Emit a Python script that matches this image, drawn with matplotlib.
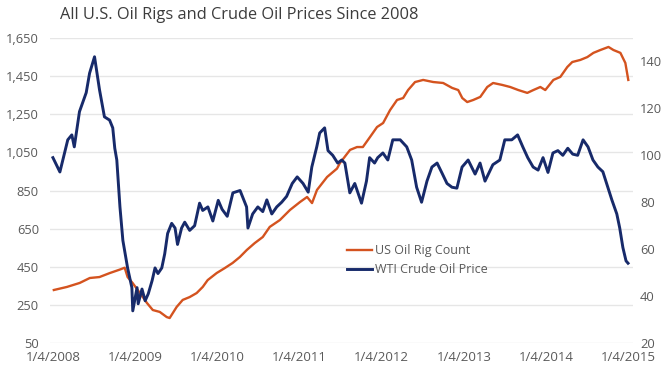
import pandas as pd
import matplotlib
matplotlib.use('Agg')
from matplotlib import pyplot as plt
from matplotlib.ticker import FuncFormatter

plt.rcParams['font.family'] = ['Open Sans', 'DejaVu Sans']

# US oil rig count (left axis)
rig_dates = ['2008-01-08', '2008-03-06', '2008-05-02', '2008-06-16', '2008-07-29', '2008-09-13',
             '2008-10-27', '2008-11-18', '2008-12-01', '2008-12-23', '2009-01-25', '2009-02-25',
             '2009-03-23', '2009-04-23', '2009-05-24', '2009-06-06', '2009-07-07', '2009-08-03',
             '2009-09-03', '2009-10-04', '2009-10-31', '2009-11-22', '2010-01-01', '2010-02-06',
             '2010-03-13', '2010-04-14', '2010-05-15', '2010-06-19', '2010-07-25', '2010-08-25',
             '2010-10-09', '2010-11-23', '2011-01-07', '2011-02-07', '2011-03-01', '2011-03-23',
             '2011-05-07', '2011-06-20', '2011-07-03', '2011-08-17', '2011-09-17', '2011-10-13',
             '2011-11-14', '2011-12-15', '2012-01-11', '2012-02-11', '2012-03-13', '2012-04-09',
             '2012-05-01', '2012-06-01', '2012-07-07', '2012-08-21', '2012-10-04', '2012-11-13',
             '2012-12-10', '2012-12-28', '2013-01-19', '2013-02-15', '2013-03-18', '2013-04-18',
             '2013-05-14', '2013-06-23', '2013-07-29', '2013-09-03', '2013-10-13', '2013-11-09',
             '2013-12-10', '2014-01-01', '2014-02-06', '2014-03-09', '2014-04-09', '2014-05-01',
             '2014-06-06', '2014-07-07', '2014-08-03', '2014-09-03', '2014-10-09', '2014-10-31',
             '2014-12-01', '2014-12-23', '2015-01-05']
rig_count = [328, 344, 365, 391, 396, 417,
             435, 445, 396, 365, 312, 260,
             223, 213, 186, 181, 239, 276,
             291, 312, 344, 380, 417, 443,
             470, 501, 538, 574, 606, 659,
             695, 748, 790, 816, 784, 853,
             921, 965, 994, 1063, 1078, 1078,
             1131, 1183, 1204, 1272, 1325, 1335,
             1377, 1419, 1430, 1419, 1414, 1388,
             1377, 1335, 1314, 1325, 1341, 1393,
             1414, 1404, 1393, 1377, 1362, 1377,
             1393, 1377, 1430, 1446, 1498, 1524,
             1535, 1550, 1572, 1587, 1603, 1587,
             1572, 1519, 1430]

# WTI crude oil price (right axis)
wti_dates = ['2008-01-04', '2008-02-04', '2008-03-10', '2008-03-28', '2008-04-08', '2008-05-01',
             '2008-05-31', '2008-06-15', '2008-07-07', '2008-07-29', '2008-08-20', '2008-09-12',
             '2008-09-26', '2008-10-05', '2008-10-14', '2008-10-28', '2008-11-10', '2008-12-01',
             '2008-12-20', '2008-12-24', '2009-01-12', '2009-01-17', '2009-02-03', '2009-02-17',
             '2009-03-03', '2009-03-20', '2009-04-02', '2009-04-15', '2009-05-02', '2009-05-15',
             '2009-05-28', '2009-06-15', '2009-06-30', '2009-07-11', '2009-07-29', '2009-08-12',
             '2009-09-03', '2009-09-25', '2009-10-17', '2009-10-31', '2009-11-23', '2009-12-15',
             '2010-01-08', '2010-01-25', '2010-02-17', '2010-03-14', '2010-04-15', '2010-05-14',
             '2010-05-20', '2010-06-10', '2010-07-03', '2010-07-25', '2010-08-12', '2010-09-03',
             '2010-09-25', '2010-10-17', '2010-11-08', '2010-12-03', '2010-12-25', '2011-01-20',
             '2011-02-12', '2011-02-28', '2011-03-22', '2011-04-04', '2011-04-26', '2011-05-11',
             '2011-06-01', '2011-06-23', '2011-07-11', '2011-07-25', '2011-08-16', '2011-09-07',
             '2011-10-07', '2011-10-29', '2011-11-12', '2011-12-04', '2011-12-18', '2012-01-10',
             '2012-02-01', '2012-02-23', '2012-03-27', '2012-04-25', '2012-05-17', '2012-06-08',
             '2012-06-30', '2012-07-24', '2012-08-15', '2012-09-07', '2012-09-29', '2012-10-21',
             '2012-11-12', '2012-12-04', '2012-12-27', '2013-01-23', '2013-02-23', '2013-03-17',
             '2013-04-08', '2013-05-13', '2013-06-13', '2013-07-05', '2013-08-05', '2013-08-31',
             '2013-09-23', '2013-10-15', '2013-11-08', '2013-11-30', '2013-12-22', '2014-01-13',
             '2014-02-04', '2014-02-26', '2014-03-20', '2014-04-11', '2014-05-03', '2014-05-25',
             '2014-06-18', '2014-07-10', '2014-08-01', '2014-08-23', '2014-09-14', '2014-10-06',
             '2014-10-24', '2014-11-15', '2014-11-28', '2014-12-12', '2014-12-26', '2015-01-04']
wti_price = [99, 92.9, 106.6, 108.7, 103.6, 118.6,
             126.7, 135, 142, 128, 116.4, 115,
             111.7, 103, 98, 78, 63.7, 52,
             43.6, 33.7, 43.6, 36.7, 43, 38,
             41, 46.6, 52, 49.6, 52, 58,
             66.7, 71, 69, 62, 69, 71.5,
             68, 70, 79.6, 76.5, 78, 72,
             80.8, 77, 74, 84, 85, 78,
             69, 75, 78, 76, 81, 75,
             78, 80, 82.5, 88, 90.8, 88,
             84.3, 95, 103.6, 109.5, 111.7, 102,
             100, 96.7, 98, 96.7, 84, 88,
             79.6, 89, 99, 96.7, 99, 101,
             98, 106.6, 106.6, 103.6, 98, 86.4,
             80, 89, 95, 96.7, 92.4, 88,
             86.4, 86, 95, 98, 92, 96.7,
             89, 96, 98, 106.6, 106.6, 108.7,
             103.6, 99, 95, 93.7, 99, 92.7,
             101, 102, 100, 103, 100.5, 100,
             106.6, 103.6, 98, 95, 93, 86.4,
             81, 75, 69, 60.7, 55, 54]

tick_dates = ['2008-01-04', '2009-01-04', '2010-01-04', '2011-01-04',
              '2012-01-04', '2013-01-04', '2014-01-04', '2015-01-04']
tick_labels = ['1/4/2008', '1/4/2009', '1/4/2010', '1/4/2011',
               '1/4/2012', '1/4/2013', '1/4/2014', '1/4/2015']
left_ticks = [50, 250, 450, 650, 850, 1050, 1250, 1450, 1650]
right_ticks = [20, 40, 60, 80, 100, 120, 140]

orange = '#d4531f'
navy = '#172a6a'
grey = '#5a5a5a'

fig = plt.figure(figsize=(6.62, 3.69), dpi=100)
ax = fig.add_axes([50/662, 26/369, 583/662, 305/369])
ax2 = ax.twinx()

l1, = ax.plot(pd.to_datetime(rig_dates), rig_count, color=orange, lw=1.7, label='US Oil Rig Count')
l2, = ax2.plot(pd.to_datetime(wti_dates), wti_price, color=navy, lw=2.1, label='WTI Crude Oil Price')

ax.set_xlim(pd.Timestamp('2007-12-22'), pd.Timestamp('2015-01-26'))
ax.set_ylim(50, 1650)
ax2.set_ylim(20, 150)

ax.set_xticks(pd.to_datetime(tick_dates))
ax.set_xticklabels(tick_labels)
ax.set_yticks(left_ticks)
ax.yaxis.set_major_formatter(FuncFormatter(lambda v, p: '{:,.0f}'.format(v)))
ax2.set_yticks(right_ticks)

ax.grid(axis='y', color='#e6e6e6', lw=1)
ax.set_axisbelow(True)
for a in (ax, ax2):
    for s in a.spines.values():
        s.set_visible(False)
ax.tick_params(axis='x', length=0, pad=6, labelsize=9.5, labelcolor=grey)
ax.tick_params(axis='y', length=0, pad=8, labelsize=9.3, labelcolor=grey)
ax2.tick_params(axis='y', length=0, pad=5, labelsize=9.3, labelcolor=grey)

fig.text(60/662, 1 - 15/369, 'All U.S. Oil Rigs and Crude Oil Prices Since 2008',
         fontsize=11.8, color='#3c3c3c', va='center', ha='left')

fig.legend(handles=[l1, l2], loc='upper left', bbox_to_anchor=(341/662, 1 - 238/369),
           frameon=False, fontsize=9, handlelength=2.0, handletextpad=0.2,
           labelspacing=0.45, borderpad=0, labelcolor=grey)

plt.savefig('out.png', dpi=100)
